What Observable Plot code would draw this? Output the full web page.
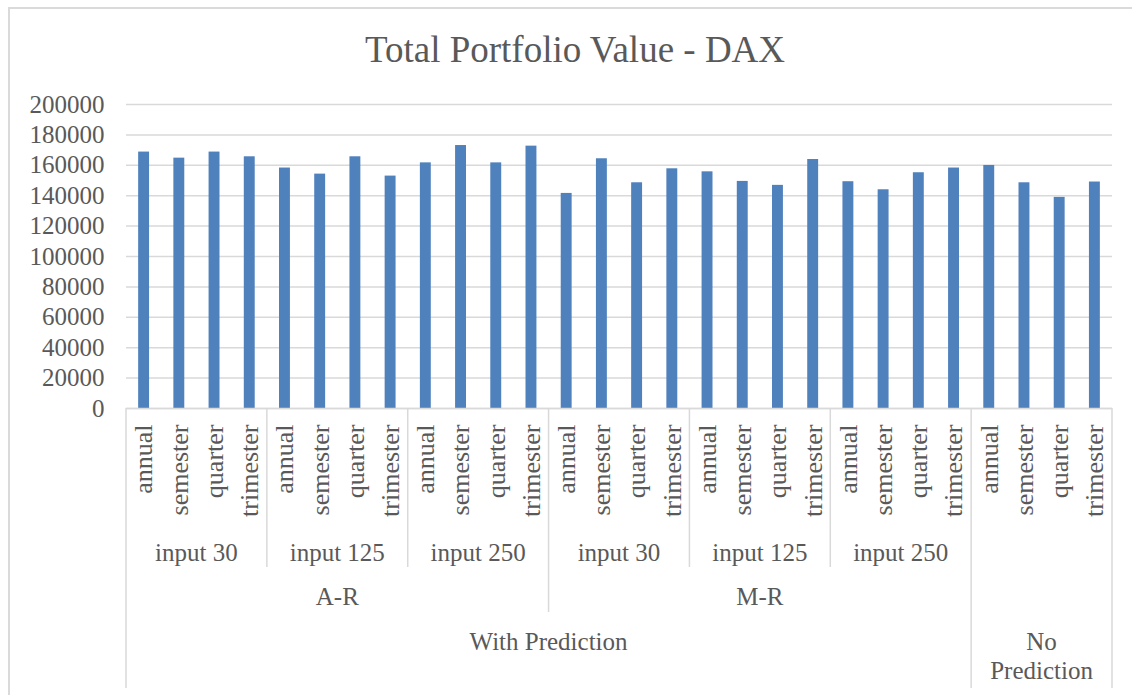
<!DOCTYPE html>
<html>
<head>
<meta charset="utf-8">
<script src="https://cdn.jsdelivr.net/npm/d3@7"></script>
<script src="https://cdn.jsdelivr.net/npm/@observablehq/plot@0.6"></script>
<style>
  html, body { margin: 0; padding: 0; background: #fff; overflow: hidden; }
  #wrap { position: relative; width: 1132px; height: 695px; overflow: hidden; }
  #border { position: absolute; left: 8px; top: 7px; width: 1200px; height: 800px;
            border: 2px solid #dadada; box-sizing: border-box; }
  #title { position: relative; height: 80px; }
  #title span { position: absolute; left: 575px; top: 30px; transform: translateX(-50%);
                font-family: "Liberation Serif", serif; font-size: 37px; line-height: 40px;
                color: #595959; white-space: nowrap; }
  #chart { position: relative; }
</style>
</head>
<body>
<div id="wrap">
  <div id="border"></div>
  <div id="title"><span>Total Portfolio Value - DAX</span></div>
  <div id="chart"></div>
</div>
<script>
// ---- data ----
const periods = ["annual", "semester", "quarter", "trimester"];
const groupPrediction = ["With Prediction", "With Prediction", "With Prediction", "With Prediction", "With Prediction", "With Prediction", "No Prediction"];
const groupMethod = ["A-R", "A-R", "A-R", "M-R", "M-R", "M-R", ""];
const groupInput = ["input 30", "input 125", "input 250", "input 30", "input 125", "input 250", ""];
const values = [
  168700, 164700, 168700, 165600,   // A-R input 30
  158200, 154200, 165600, 152900,   // A-R input 125
  161600, 173000, 161600, 172600,   // A-R input 250
  141500, 164300, 148500, 157700,   // M-R input 30
  155700, 149400, 146800, 163800,   // M-R input 125
  149200, 143900, 155100, 158200,   // M-R input 250
  159900, 148500, 138900, 149000    // No Prediction
];
const yTicks = [0, 20000, 40000, 60000, 80000, 100000, 120000, 140000, 160000, 180000, 200000];

// ---- table ----
const data = [];
groupPrediction.forEach((pred, g) => {
  periods.forEach((p, i) => {
    data.push({key: `${g}-${i}`, group: g, period: p, prediction: pred,
               method: groupMethod[g], input: groupInput[g], value: values[g * 4 + i]});
  });
});
const keys = data.map(d => d.key);
const periodOf = new Map(data.map(d => [d.key, d.period]));

const textColor = "#595959";
const lineColor = "#d9d9d9";
const font = "Liberation Serif";

const chart = Plot.plot({
  width: 1132,
  height: 615,
  marginTop: 24,
  marginLeft: 126,
  marginRight: 20,
  marginBottom: 287,
  style: {fontFamily: font, fontSize: "25px", color: textColor, background: "transparent", overflow: "visible"},
  x: {type: "band", domain: keys, paddingInner: 0.69, paddingOuter: 0.345, round: false, axis: null},
  y: {domain: [0, 200000], axis: null},
  marks: [
    Plot.gridY(yTicks, {stroke: lineColor, strokeOpacity: 1, strokeWidth: 1.5}),
    Plot.axisY(yTicks, {tickSize: 0, tickPadding: 22, tickFormat: d3.format("d"), label: null, fill: textColor, fontSize: 25}),
    Plot.barY(data, {x: "key", y: "value", fill: "#4f81bd"}),
    Plot.ruleY([0], {stroke: lineColor, strokeWidth: 1.5}),
    Plot.axisX({tickRotate: -90, tickSize: 0, tickPadding: 16, tickFormat: k => periodOf.get(k), label: null, fill: textColor, fontSize: 26})
  ]
});
document.getElementById("chart").appendChild(chart);

// ---- multi-level category axis built from the plot's own scales ----
const xs = chart.scale("x");
const ys = chart.scale("y");
const svg = d3.select(chart);
const step = xs.step, bw = xs.bandwidth;
const cellLeft = i => xs.apply(keys[i]) - (step - bw) / 2;
const cellRight = i => cellLeft(i) + step;
const y0 = ys.apply(0);

const layer = svg.append("g");
// separators
const nG = groupPrediction.length;
for (let g = 0; g <= nG; g++) {
  const xPos = g < nG ? cellLeft(g * 4) : cellRight(keys.length - 1);
  let len;
  if (g === 0 || g === nG || groupPrediction[g] !== groupPrediction[g - 1]) len = 280;
  else if (groupMethod[g] !== groupMethod[g - 1]) len = 204;
  else len = 159;
  layer.append("line")
    .attr("x1", xPos).attr("x2", xPos)
    .attr("y1", y0).attr("y2", y0 + len)
    .attr("stroke", lineColor).attr("stroke-width", 1.5);
}

function label(txt, x, baseline) {
  layer.append("text")
    .attr("x", x).attr("y", baseline)
    .attr("text-anchor", "middle")
    .attr("font-family", font).attr("font-size", 25)
    .attr("fill", textColor)
    .text(txt);
}
// input level
groupInput.forEach((t, g) => {
  if (!t) return;
  label(t, (cellLeft(g * 4) + cellRight(g * 4 + 3)) / 2, y0 + 153);
});
// method level
const methodNames = [...new Set(groupMethod.filter(Boolean))];
methodNames.forEach(m => {
  const idx = data.filter(d => d.method === m).map(d => keys.indexOf(d.key));
  label(m, (cellLeft(d3.min(idx)) + cellRight(d3.max(idx))) / 2, y0 + 197);
});
// prediction level
const predNames = [...new Set(groupPrediction)];
predNames.forEach(p => {
  const idx = data.filter(d => d.prediction === p).map(d => keys.indexOf(d.key));
  const cx = (cellLeft(d3.min(idx)) + cellRight(d3.max(idx))) / 2;
  const words = p === "No Prediction" ? ["No", "Prediction"] : [p];
  words.forEach((w, j) => label(w, cx, y0 + 242 + j * 29));
});
</script>
</body>
</html>
